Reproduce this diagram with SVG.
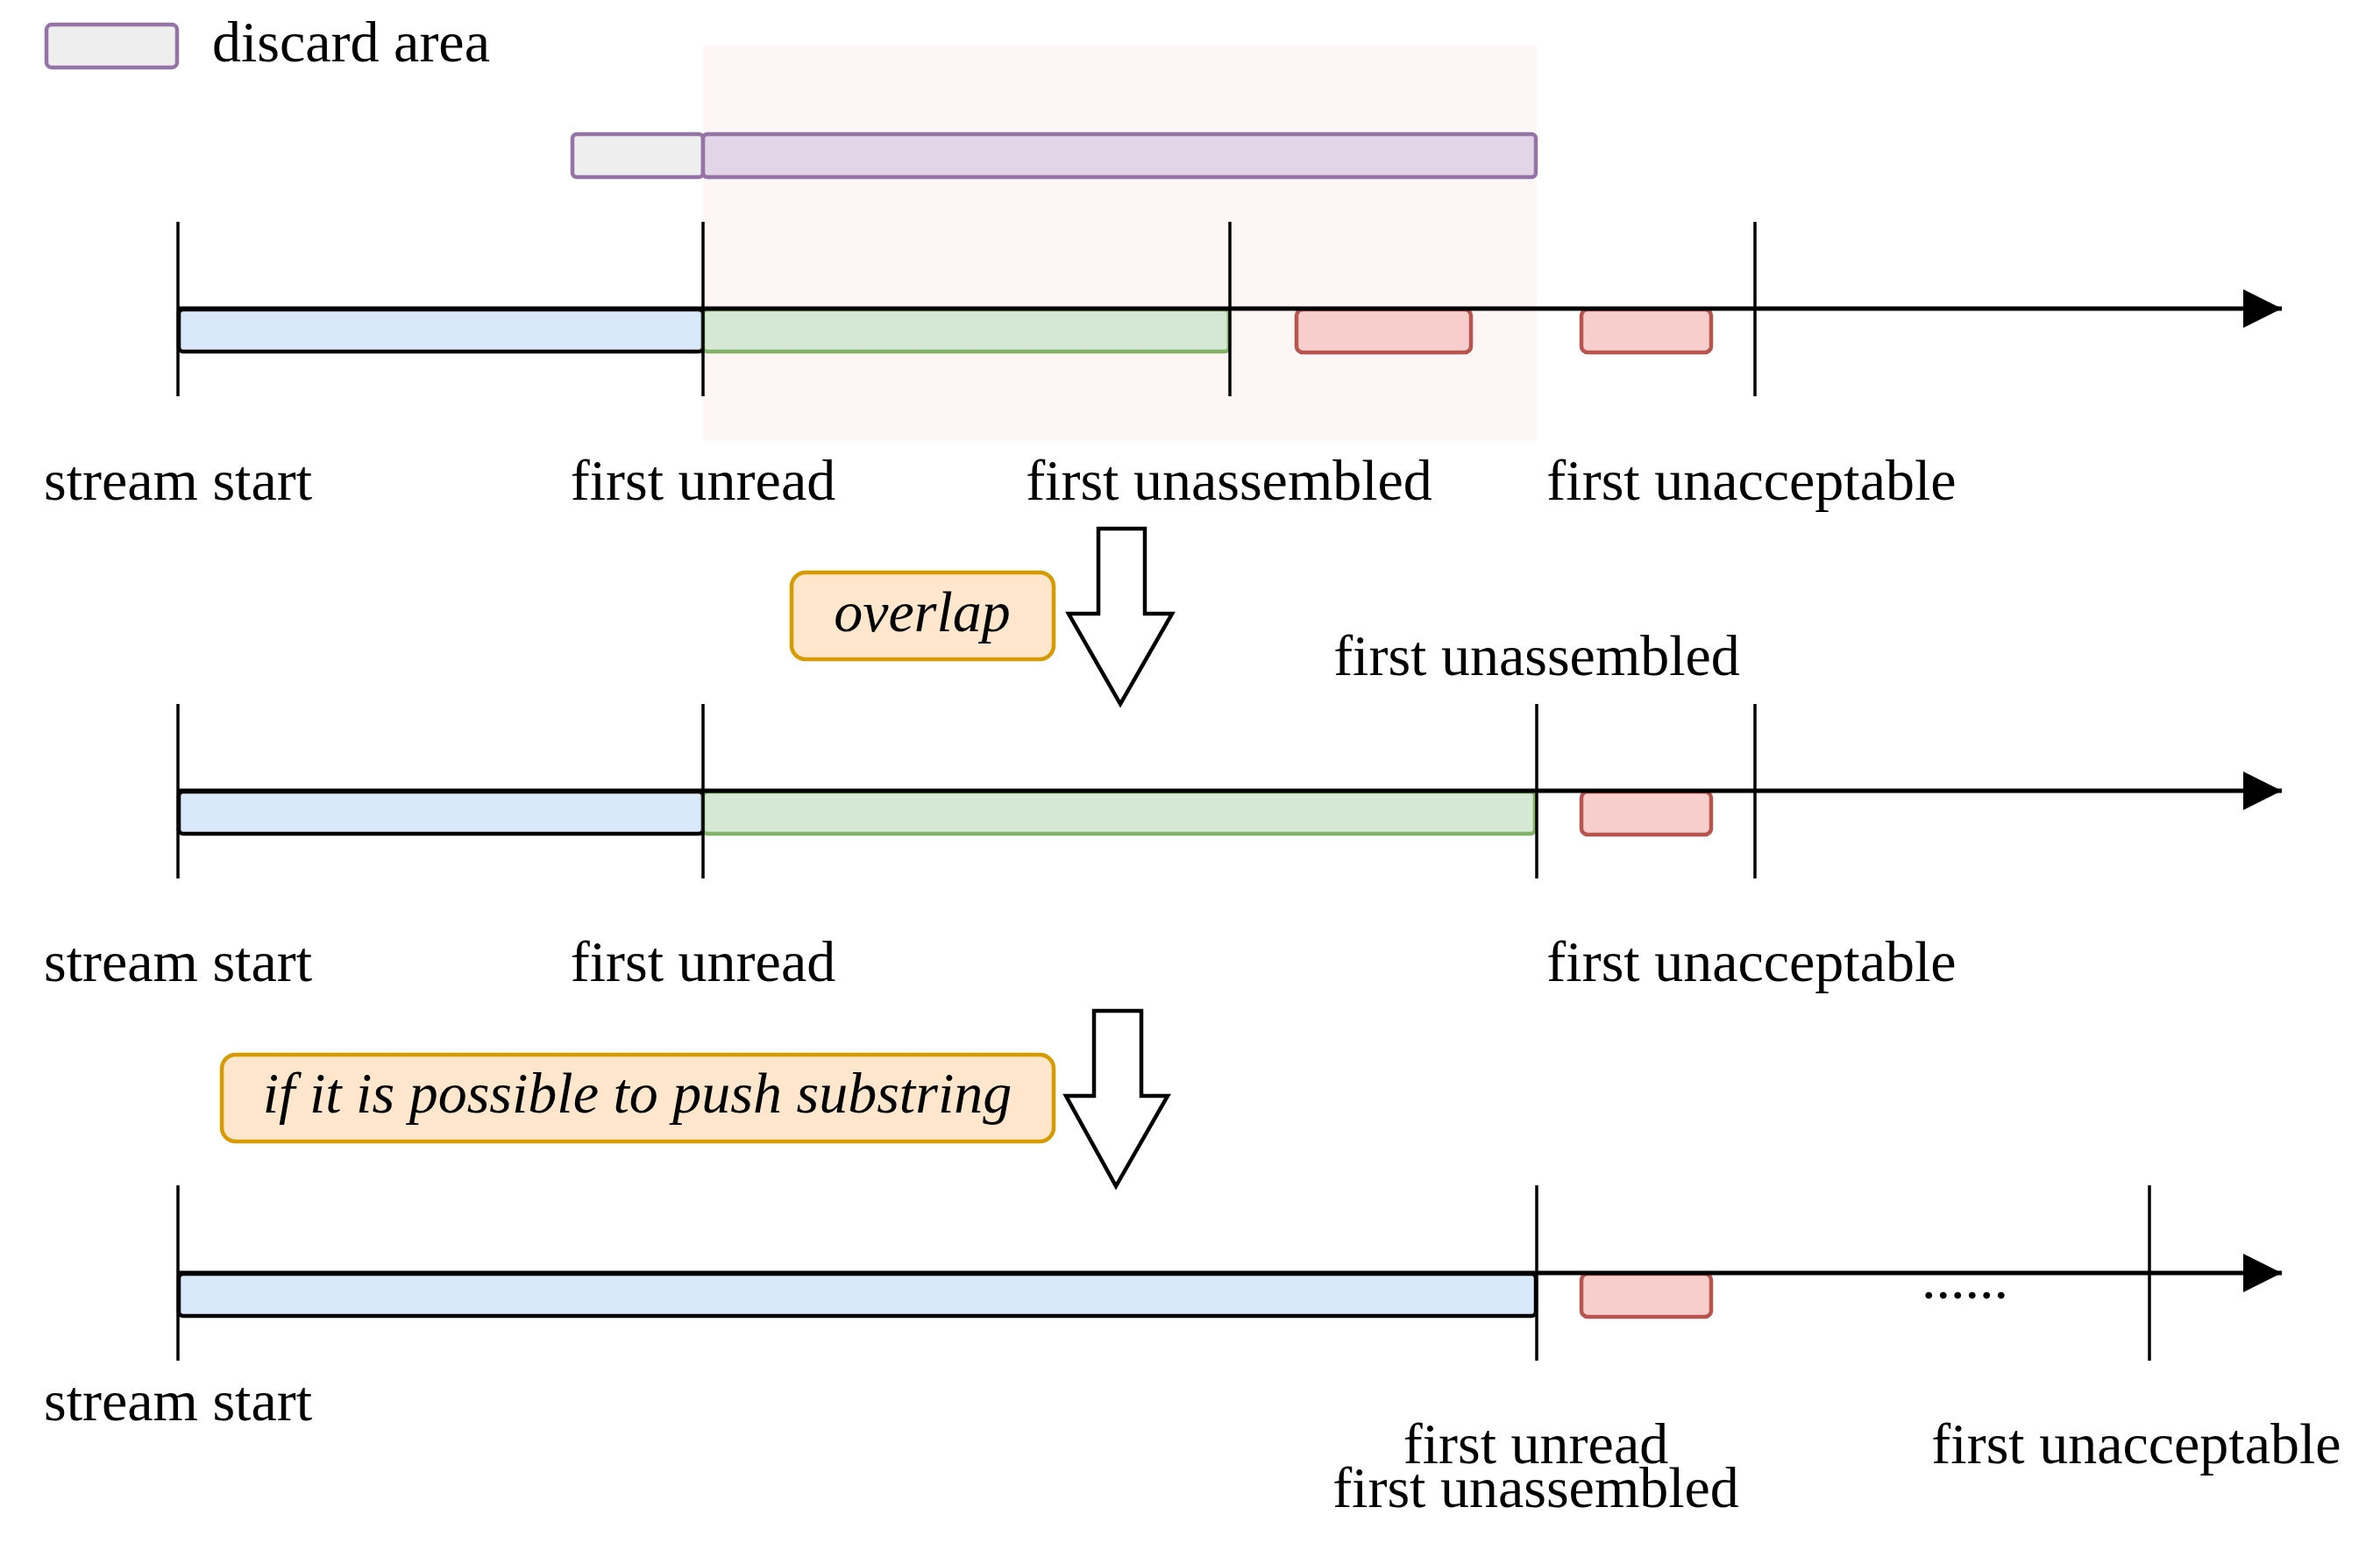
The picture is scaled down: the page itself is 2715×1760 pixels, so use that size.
<svg xmlns="http://www.w3.org/2000/svg" width="2715" height="1760" viewBox="0 0 2715 1760">
<style>
  text { font-family: "Liberation Serif", "Times New Roman", serif; font-size: 66px; fill: #000; }
  .mid { text-anchor: middle; }
  .it { font-style: italic; }
  .tick { stroke: #000; stroke-width: 3.5; fill: none; }
  .axis { stroke: #000; stroke-width: 5; fill: none; }
  .blue { fill: #dae8fc; stroke: #000; stroke-width: 4.5; }
  .green { fill: #d5e8d4; stroke: #82b366; stroke-width: 4.5; }
  .red { fill: #f8cecc; stroke: #b85450; stroke-width: 4.5; }
  .gray { fill: #eeeeee; stroke: #9673a6; stroke-width: 4.5; }
  .purple { fill: #e1d5e7; stroke: #9673a6; stroke-width: 4.5; }
  .note { fill: #ffe6cc; stroke: #d79b00; stroke-width: 4.5; }
  .barrow { fill: #ffffff; stroke: #000; stroke-width: 4.5; stroke-linejoin: miter; }
</style>
<defs>
  <marker id="ah" markerUnits="userSpaceOnUse" markerWidth="46" markerHeight="44" refX="44" refY="22" orient="auto">
    <path d="M0,0 L44,22 L0,44 Z" fill="#000"/>
  </marker>
</defs>

<g id="legend">
  <rect class="gray" x="53" y="28" width="149" height="49" rx="6"/>
  <text x="242" y="70">discard area</text>
</g>

<g id="row1">
  <rect id="window" x="802" y="52" width="951" height="450" fill="#fef5f5"/>
  <g id="segment-incoming">
    <rect class="gray" x="653" y="153" width="149" height="49" rx="5"/>
    <rect class="purple" x="802" y="153" width="950" height="49" rx="5"/>
  </g>
  <rect class="blue" x="204" y="353" width="598" height="48" rx="5"/>
  <rect class="green" x="802" y="353" width="600" height="48" rx="5"/>
  <rect class="red" x="1479" y="353" width="199" height="49" rx="7"/>
  <rect class="red" x="1804" y="353" width="148" height="49" rx="7"/>
  <line class="tick" x1="203" y1="253" x2="203" y2="452"/>
  <line class="tick" x1="802" y1="253" x2="802" y2="452"/>
  <line class="tick" x1="1403" y1="253" x2="1403" y2="452"/>
  <line class="tick" x1="2002" y1="253" x2="2002" y2="452"/>
  <text class="mid" x="203" y="570">stream start</text>
  <text class="mid" x="802" y="570">first unread</text>
  <text class="mid" x="1402" y="570">first unassembled</text>
  <text class="mid" x="1998" y="570">first unacceptable</text>
</g>

<g id="note-overlap">
  <rect class="note" x="903" y="653" width="299" height="99" rx="16"/>
  <text class="mid it" x="1052" y="720">overlap</text>
</g>

<g id="row2">
  <text class="mid" x="1753" y="770">first unassembled</text>
  <rect class="blue" x="204" y="903" width="598" height="48" rx="5"/>
  <rect class="green" x="802" y="903" width="949" height="48" rx="5"/>
  <rect class="red" x="1804" y="903" width="148" height="49" rx="7"/>
  <line class="tick" x1="203" y1="803" x2="203" y2="1002"/>
  <line class="tick" x1="802" y1="803" x2="802" y2="1002"/>
  <line class="tick" x1="1753" y1="803" x2="1753" y2="1002"/>
  <line class="tick" x1="2002" y1="803" x2="2002" y2="1002"/>
  <text class="mid" x="203" y="1119">stream start</text>
  <text class="mid" x="802" y="1119">first unread</text>
  <text class="mid" x="1998" y="1119">first unacceptable</text>
</g>

<g id="note-push">
  <rect class="note" x="253" y="1203" width="949" height="99" rx="16"/>
  <text class="mid it" x="727" y="1269">if it is possible to push substring</text>
</g>

<g id="row3">
  <rect class="blue" x="204" y="1453" width="1548" height="48" rx="5"/>
  <rect class="red" x="1804" y="1453" width="148" height="49" rx="7"/>
  <line class="tick" x1="203" y1="1352" x2="203" y2="1552"/>
  <line class="tick" x1="1753" y1="1352" x2="1753" y2="1552"/>
  <line class="tick" x1="2452" y1="1352" x2="2452" y2="1552"/>
  <text x="2192" y="1481">......</text>
  <text class="mid" x="203" y="1620">stream start</text>
  <text class="mid" x="1752" y="1669"><tspan x="1752" y="1669">first unread</tspan><tspan x="1752" y="1719">first unassembled</tspan></text>
  <text class="mid" x="2437" y="1669">first unacceptable</text>
</g>

<g id="connectors">
  <line class="axis" x1="203" y1="352" x2="2603" y2="352" marker-end="url(#ah)"/>
  <line class="axis" x1="203" y1="902" x2="2603" y2="902" marker-end="url(#ah)"/>
  <line class="axis" x1="203" y1="1452" x2="2603" y2="1452" marker-end="url(#ah)"/>
  <path class="barrow" d="M1253,603 L1306,603 L1306,700 L1337,700 L1278,803 L1219,700 L1253,700 Z"/>
  <path class="barrow" d="M1248,1153 L1302,1153 L1302,1250 L1332,1250 L1273,1353 L1216,1250 L1248,1250 Z"/>
</g>
</svg>
